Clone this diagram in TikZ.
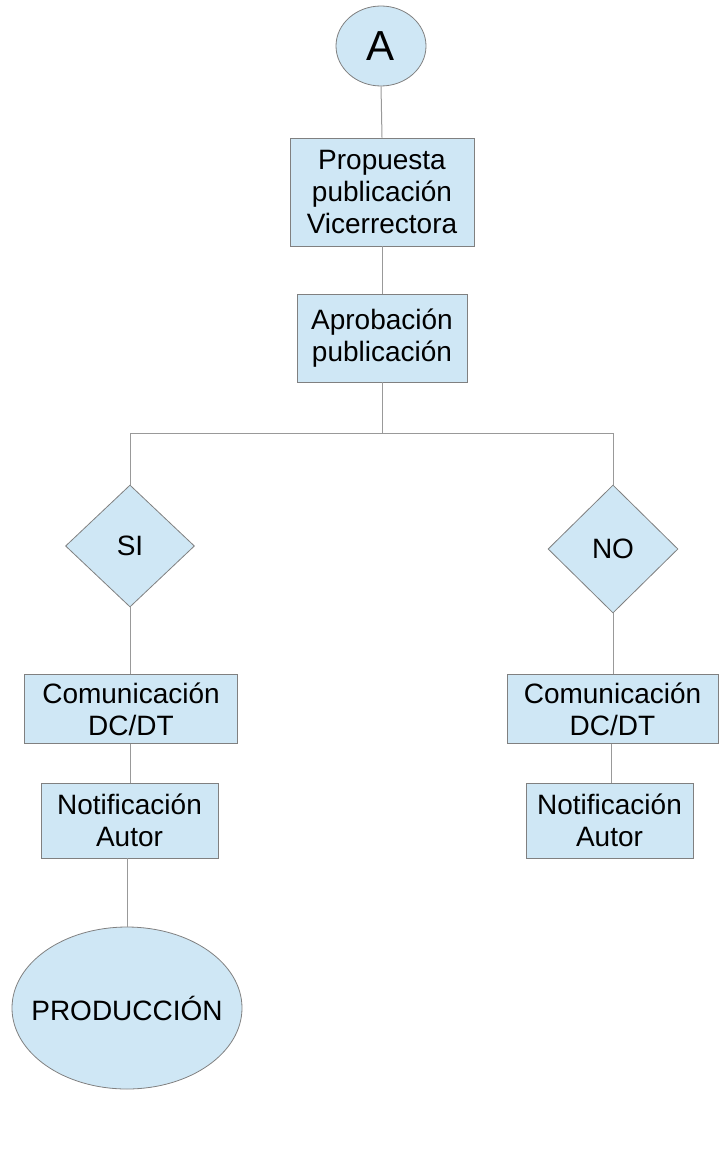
\documentclass[tikz,border=0pt]{standalone}
\usepackage{fontspec}
\setmainfont{Liberation Sans}
\usetikzlibrary{shapes.geometric}
\definecolor{boxfill}{HTML}{CFE7F5}
\definecolor{boxline}{HTML}{808080}
\definecolor{conn}{HTML}{999999}
\tikzset{
  shapebase/.style={fill=boxfill, draw=boxline, line width=0.8pt, inner sep=0pt, align=center, font=\fontsize{28}{32}\selectfont},
  procbox/.style={shapebase, rectangle},
  terminal/.style={shapebase, ellipse},
  decision/.style={shapebase, diamond},
  link/.style={draw=conn, line width=1pt}
}
\begin{document}
\begin{tikzpicture}[x=1pt,y=-1pt]
\useasboundingbox (0,0) rectangle (720,1174);
\node[terminal, minimum width=90pt, minimum height=80pt, font=\fontsize{42}{46}\selectfont] (A) at (381,46) {\makebox[0pt]{A}};
\node[procbox, minimum width=184pt, minimum height=108pt] (prop) at (382,192) {Propuesta\\publicación\\Vicerrectora};
\node[procbox, minimum width=170pt, minimum height=88pt] (aprob) at (382,338) {Aprobación\\publicación};
\coordinate (j) at (382,433);
\coordinate (jl) at (130,433);
\coordinate (jr) at (613,433);
\node[decision, minimum width=129pt, minimum height=122pt] (si) at (130,546) {\makebox[0pt]{SI}};
\node[decision, minimum width=130pt, minimum height=128pt] (no) at (613,549) {\makebox[0pt]{NO}};
\node[procbox, minimum width=213pt, minimum height=69pt] (com1) at (131,709) {Comunicación\\DC/DT};
\node[procbox, minimum width=177pt, minimum height=75pt] (not1) at (129.5,820.5) {Notificación\\Autor};
\node[terminal, minimum width=230pt, minimum height=162pt] (prod) at (127,1008) {\makebox[0pt]{PRODUCCIÓN}};
\node[procbox, minimum width=211pt, minimum height=69pt] (com2) at (612.5,709) {Comunicación\\DC/DT};
\node[procbox, minimum width=167pt, minimum height=75pt] (not2) at (609.5,820.5) {Notificación\\Autor};
\draw[link] (A.south) -- (prop.north);
\draw[link] (prop.south) -- (aprob.north);
\draw[link] (aprob.south) -- (j);
\draw[link] (jl) -- (jr);
\draw[link] (jl) -- (si.north);
\draw[link] (jr) -- (no.north);
\draw[link] (si.south) -- (si.south |- com1.north);
\draw[link] (si.south |- com1.south) -- (si.south |- not1.north);
\draw[link] (prod.north |- not1.south) -- (prod.north);
\draw[link] (no.south) -- (no.south |- com2.north);
\draw[link] (com2.south -| 611,0) -- (not2.north -| 611,0);
\end{tikzpicture}
\end{document}
